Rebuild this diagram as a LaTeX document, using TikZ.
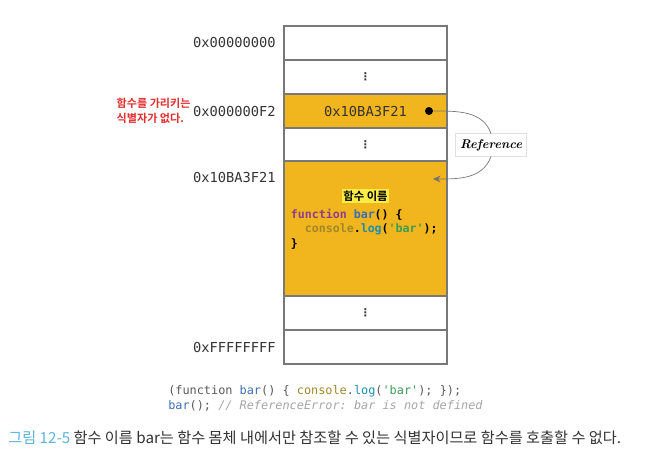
\documentclass[tikz,border=0pt]{standalone}
\usepackage{fontspec}
\setmonofont{DejaVu Sans Mono}
\newfontfamily\kr[BoldFont={Noto Sans CJK KR Bold}]{Noto Sans CJK KR}
\newfontfamily\symf{DejaVu Sans}
\usepackage{tikz}
\usetikzlibrary{arrows.meta,positioning,calc}
\definecolor{cellline}{RGB}{120,120,120}
\definecolor{memyellow}{RGB}{241,182,30}
\definecolor{hilite}{RGB}{250,236,70}
\definecolor{notered}{RGB}{225,45,45}
\definecolor{kwpurple}{RGB}{145,60,140}
\definecolor{idblue}{RGB}{60,110,180}
\definecolor{objolive}{RGB}{160,135,40}
\definecolor{fnteal}{RGB}{30,140,175}
\definecolor{strgreen}{RGB}{60,155,85}
\definecolor{cmtgray}{RGB}{165,165,165}
\definecolor{capblue}{RGB}{90,180,220}
\definecolor{captext}{RGB}{50,50,50}
\newcommand{\celldots}{{\symf\bfseries\fontsize{8}{8}\selectfont ⋮}}
\tikzset{
  cell/.style={draw=cellline,line width=0.8pt,minimum width=122.25pt,
               minimum height=25.5pt,inner sep=0pt,outer sep=0pt,text=black!80},
  addr/.style={font=\ttfamily\fontsize{10.3}{12}\selectfont,text=black!80,inner sep=0pt},
  arr/.style={-{Stealth[length=2mm,width=1.8mm]},draw=black!55,line width=0.5pt},
}

\begin{document}
\begin{tikzpicture}[x=0.75pt,y=-0.75pt]
  \useasboundingbox (0,0) rectangle (646,464);
  % memory column
  \node[cell] (c1) at (365.5,43) {};
  \node[cell,below=0pt of c1] (c2) {\celldots};
  \node[cell,below=0pt of c2,fill=memyellow] (c3) {};
  \node[cell,below=0pt of c3,minimum height=24.75pt] (c4) {\celldots};
  \node[cell,below=0pt of c4,fill=memyellow,minimum height=101.25pt] (c5) {};
  \node[cell,below=0pt of c5] (c6) {\celldots};
  \node[cell,below=0pt of c6] (c7) {};
  % addresses
  \node[addr,anchor=east] (a1) at ([xshift=-6pt]c1.west) {0x00000000};
  \node[addr,anchor=east] (a3) at ([xshift=-6pt]c3.west) {0x000000F2};
  \node[addr,anchor=east] (a5) at ([xshift=-6pt,yshift=-12pt]c5.north west) {0x10BA3F21};
  \node[addr,anchor=east] (a7) at ([xshift=-6pt]c7.west) {0xFFFFFFFF};
  \node[anchor=east,align=left,inner sep=0pt,text=notered,
        font=\kr\bfseries\fontsize{8.3}{10.8}\selectfont] (note) at ([xshift=-1.5pt]a3.west)
        {함수를 가리키는\\식별자가 없다.};
  % cell contents
  \node[addr] (val) at (c3) {0x10BA3F21};
  \node[circle,fill=black,inner sep=0pt,minimum size=6pt] (ptr) at ([xshift=-13.5pt]c3.east) {};
  \node[fill=hilite,inner sep=1pt,font=\kr\bfseries\fontsize{8.5}{9}\selectfont] (fname)
        at ([yshift=-26.25pt]c5.north) {함수 이름};
  \node[anchor=north west,align=left,inner sep=0pt,
        font=\ttfamily\bfseries\fontsize{8.7}{11}\selectfont] (body)
        at ([xshift=5pt,yshift=-35.5pt]c5.north west)
        {\textcolor{kwpurple}{function} \textcolor{idblue}{bar}() \{\\
         \ \ \textcolor{objolive}{console}.\textcolor{fnteal}{log}(\textcolor{strgreen}{'bar'});\\
         \}};
  % reference arrow
  \node[draw=black!12,fill=white,inner sep=3pt,minimum width=53pt,minimum height=17pt,
        font=\rmfamily\bfseries\itshape\fontsize{9.5}{10}\selectfont] (ref) at (491,145) {Reference};
  \coordinate (tgt) at ([xshift=-10.5pt,yshift=-13.5pt]c5.north east);
  \draw[draw=black!55,line width=0.5pt] (ptr) to[out=0,in=110] (ref.north);
  \draw[arr] (ref.south) to[out=-110,in=0] (tgt);
  % code below
  \node[anchor=west,align=left,inner sep=0pt,text=black!65,
        font=\ttfamily\fontsize{8.9}{11}\selectfont] (src) at (168,398.5)
        {(function \textcolor{idblue}{bar}() \{ \textcolor{objolive}{console}.\textcolor{fnteal}{log}(\textcolor{strgreen}{'bar'}); \});\\
         \textcolor{idblue}{bar}(); \textcolor{cmtgray}{\itshape // ReferenceError: bar is not defined}};
  % caption
  \node[anchor=west,inner sep=0pt,text=captext,font=\kr\fontsize{11.4}{13}\selectfont] (cap) at (8,438)
        {\textcolor{capblue}{그림 12-5} 함수 이름 bar는 함수 몸체 내에서만 참조할 수 있는 식별자이므로 함수를 호출할 수 없다.};
\end{tikzpicture}
\end{document}
